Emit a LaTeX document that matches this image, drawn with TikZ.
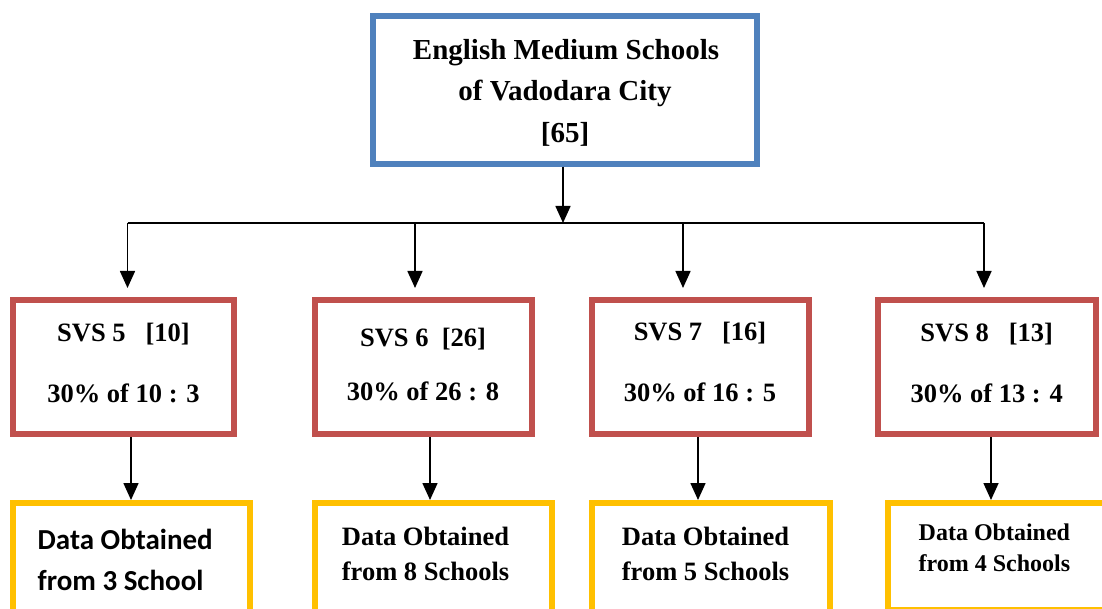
\documentclass[tikz,border=0pt]{standalone}
\usepackage{fontspec}
\setmainfont{Liberation Serif}
\newfontfamily\calfont{Carlito}
\usetikzlibrary{arrows.meta}
\definecolor{bblue}{HTML}{4F81BD}
\definecolor{rred}{HTML}{C0504D}
\definecolor{yyel}{HTML}{FFC000}
\begin{document}
\begin{tikzpicture}[x=1pt,y=-1pt,
  frame/.style={draw, line width=6pt, fill=white, inner sep=0pt},
  topbox/.style={frame, draw=bblue},
  redbox/.style={frame, draw=rred, minimum height=134pt},
  yelbox/.style={frame, draw=yyel},
  conn/.style={line width=1.6pt, draw=black},
  arr/.style={conn, -{Triangle[width=15pt,length=17pt]}},
  toptxt/.style={anchor=base, inner sep=0pt, font=\bfseries\fontsize{29}{34}\selectfont},
  redtxt/.style={anchor=base, inner sep=0pt, font=\bfseries\fontsize{26.5}{30}\selectfont},
  yeltxt/.style={anchor=base west, inner sep=0pt, font=\bfseries\fontsize{26.5}{30}\selectfont},
  yelsmall/.style={anchor=base west, inner sep=0pt, font=\bfseries\fontsize{24}{28}\selectfont},
  calibtxt/.style={anchor=base west, inner sep=0pt, font=\calfont\bfseries\fontsize{29}{34}\selectfont}
]
\useasboundingbox (0,0) rectangle (1102,609);
\clip (0,0) rectangle (1102,609);

% top box
\node[topbox, minimum width=384pt, minimum height=147.4pt] (top) at (565,90) {};
\node[toptxt] (ta) at (566,60) {English Medium Schools};
\node[toptxt] (tb) at (565,101) {of Vadodara City};
\node[toptxt] (tc) at (565,143) {[65]};

% red boxes
\node[redbox, minimum width=221pt] (r1) at (123.5,367) {};
\node[redbox, minimum width=217pt] (r2) at (423.5,367) {};
\node[redbox, minimum width=217pt] (r3) at (700.5,367) {};
\node[redbox, minimum width=218pt] (r4) at (987,367) {};

\node[redtxt] (r1a) at (123.5,341.7) {SVS 5\ \ \ [10]};
\node[redtxt] (r1b) at (123.5,402.7) {30\% of 10 : 3};
\node[redtxt] (r2a) at (423,346.7) {SVS 6\ \ [26]};
\node[redtxt] (r2b) at (423,400) {30\% of 26 : 8};
\node[redtxt] (r3a) at (700,340) {SVS 7\ \ \ [16]};
\node[redtxt] (r3b) at (700,401.7) {30\% of 16 : 5};
\node[redtxt] (r4a) at (986.7,341.7) {SVS 8\ \ \ [13]};
\node[redtxt] (r4b) at (986.7,402.7) {30\% of 13 : 4};

% yellow boxes
\node[yelbox, minimum width=237pt, minimum height=117pt] (y1) at (131.5,561.5) {};
\node[yelbox, minimum width=237pt, minimum height=117pt] (y2) at (433.5,561.5) {};
\node[yelbox, minimum width=238pt, minimum height=117pt] (y3) at (711,561.5) {};
\node[yelbox, minimum width=224pt, minimum height=106.5pt] (y4) at (1000,556.25) {};

\node[calibtxt] (y1a) at (37.5,549.3) {Data Obtained};
\node[calibtxt] (y1b) at (37.5,590) {from 3 School};
\node[yeltxt] (y2a) at (341.7,545) {Data Obtained};
\node[yeltxt] (y2b) at (341.7,580) {from 8 Schools};
\node[yeltxt] (y3a) at (621.7,545) {Data Obtained};
\node[yeltxt] (y3b) at (621.7,580) {from 5 Schools};
\node[yelsmall] (y4a) at (918.5,540) {Data Obtained};
\node[yelsmall] (y4b) at (918.5,571.7) {from 4 Schools};

% connectors
\coordinate (hL) at (127.5,223);
\coordinate (hC) at (563,223);
\coordinate (hR) at (984,223);
\coordinate (d2) at (415,223);
\coordinate (d3) at (683,223);

\draw[conn] (hL) -- (hR);
\draw[arr] ([xshift=-2pt]top.south) -- (hC);
\draw[arr, shorten >=9pt] (hL) -- (hL |- r1.north);
\draw[arr, shorten >=9pt] (d2) -- (d2 |- r2.north);
\draw[arr, shorten >=9pt] (d3) -- (d3 |- r3.north);
\draw[arr, shorten >=9pt] (hR) -- (hR |- r4.north);

\draw[arr] ([xshift=7.5pt]r1.south) -- ([xshift=7.5pt]r1.south |- y1.north);
\draw[arr] ([xshift=6.5pt]r2.south) -- ([xshift=6.5pt]r2.south |- y2.north);
\draw[arr] ([xshift=-2.5pt]r3.south) -- ([xshift=-2.5pt]r3.south |- y3.north);
\draw[arr] ([xshift=4pt]r4.south) -- ([xshift=4pt]r4.south |- y4.north);
\end{tikzpicture}
\end{document}
